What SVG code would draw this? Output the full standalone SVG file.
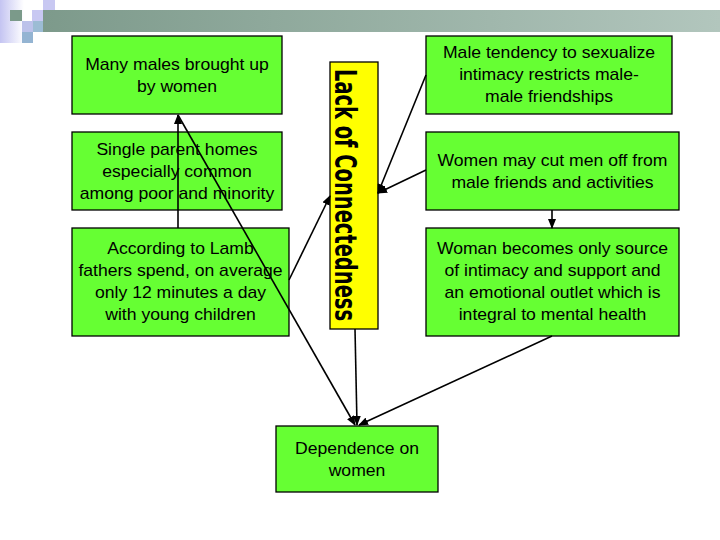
<svg xmlns="http://www.w3.org/2000/svg" width="720" height="540" viewBox="0 0 720 540">
<defs>
<linearGradient id="bar" x1="0" y1="0" x2="1" y2="0">
<stop offset="0" stop-color="#7d9a8b"/>
<stop offset="1" stop-color="#b2c6bd"/>
</linearGradient>
<linearGradient id="lav" x1="0" y1="0" x2="1" y2="0">
<stop offset="0" stop-color="#c4c4f2"/>
<stop offset="1" stop-color="#ffffff"/>
</linearGradient>
<marker id="ah" markerUnits="userSpaceOnUse" markerWidth="10" markerHeight="8" refX="9" refY="4" orient="auto">
<path d="M0,0 L10,4 L0,8 Z" fill="#000"/>
</marker>
</defs>
<style>
.box{fill:#66ff33;stroke:#000;stroke-width:1.3}
.ybox{fill:#ffff00;stroke:#000;stroke-width:1.3}
.t{font-family:"Liberation Sans",Arial,sans-serif;font-size:16px;fill:#000;text-anchor:middle}
.v{font-family:"Liberation Sans Narrow","DejaVu Sans Condensed","Liberation Sans",sans-serif;font-size:30px;font-weight:bold;fill:#000}
.c{stroke:#000;stroke-width:1.6;fill:none;marker-end:url(#ah)}
</style>
<rect width="720" height="540" fill="#fff"/>
<g id="decor">
<rect x="0" y="0" width="24" height="43" fill="url(#lav)"/>
<rect x="10" y="10" width="12" height="11" fill="#7b9a8a"/>
<rect x="43" y="0" width="12" height="10" fill="#c8c8f2"/>
<rect x="32" y="10" width="11" height="11" fill="#c8c8f2"/>
<rect x="43" y="10" width="12" height="11" fill="#a4c0de"/>
<rect x="43" y="10" width="677" height="22" fill="url(#bar)"/>
<rect x="22" y="21" width="11" height="11" fill="#bcc2ea"/>
<rect x="33" y="21" width="10" height="11" fill="#9cbcd4"/>
<rect x="22" y="32" width="11" height="11" fill="#94b4d2"/>
</g>
<g id="n1">
<rect class="box" x="72" y="36" width="210" height="78"/>
<g transform="translate(177,0) scale(1.1,1)"><text class="t" x="0" y="70.5">Many males brought up</text><text class="t" x="0" y="92.5">by women</text></g>
</g>
<g id="n2">
<rect class="box" x="72" y="132" width="210" height="78"/>
<g transform="translate(177,0) scale(1.1,1)"><text class="t" x="0" y="155.5">Single parent homes</text><text class="t" x="0" y="177">especially common</text><text class="t" x="0" y="199">among poor and minority</text></g>
</g>
<g id="n3">
<rect class="box" x="72" y="228" width="217" height="108"/>
<g transform="translate(180.5,0) scale(1.1,1)"><text class="t" x="0" y="254.5">According to Lamb</text><text class="t" x="0" y="276.5">fathers spend, on average</text><text class="t" x="0" y="298.5">only 12 minutes a day</text><text class="t" x="0" y="320.5">with young children</text></g>
</g>
<g id="lack">
<rect class="ybox" x="330" y="62" width="48" height="267"/>
<text class="v" transform="translate(335,69) rotate(90)" x="0" y="0" textLength="252" lengthAdjust="spacingAndGlyphs">Lack of Connectedness</text>
</g>
<g id="n4">
<rect class="box" x="426" y="36" width="246" height="78"/>
<g transform="translate(549,0) scale(1.1,1)"><text class="t" x="0" y="58.5">Male tendency to sexualize</text><text class="t" x="0" y="80.5">intimacy restricts male-</text><text class="t" x="0" y="102.5">male friendships</text></g>
</g>
<g id="n5">
<rect class="box" x="426" y="132" width="253" height="78"/>
<g transform="translate(552.5,0) scale(1.1,1)"><text class="t" x="0" y="166.5">Women may cut men off from</text><text class="t" x="0" y="188.5">male friends and activities</text></g>
</g>
<g id="n6">
<rect class="box" x="426" y="228" width="253" height="108"/>
<g transform="translate(552.5,0) scale(1.1,1)"><text class="t" x="0" y="254.5">Woman becomes only source</text><text class="t" x="0" y="276.5">of intimacy and support and</text><text class="t" x="0" y="298.5">an emotional outlet which is</text><text class="t" x="0" y="320.5">integral to mental health</text></g>
</g>
<g id="n7">
<rect class="box" x="276" y="426" width="162" height="66"/>
<g transform="translate(357,0) scale(1.1,1)"><text class="t" x="0" y="454.5">Dependence on</text><text class="t" x="0" y="476.5">women</text></g>
</g>
<g id="connectors">
<line class="c" x1="178" y1="228" x2="178" y2="115"/>
<line class="c" x1="178" y1="115" x2="355" y2="425"/>
<line class="c" x1="289" y1="280" x2="330" y2="196"/>
<line class="c" x1="426" y1="75" x2="378" y2="193"/>
<line class="c" x1="426" y1="170" x2="378" y2="193"/>
<line class="c" x1="552" y1="210" x2="552" y2="228"/>
<line class="c" x1="355" y1="329" x2="357" y2="425"/>
<line class="c" x1="552" y1="336" x2="359" y2="425"/>
</g>
</svg>
